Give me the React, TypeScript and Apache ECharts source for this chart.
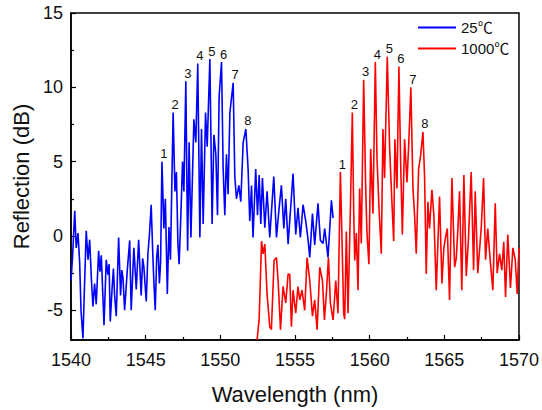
import React, { useEffect, useRef } from "react";
import * as echarts from "echarts";

// Reflection spectra: [wavelength (nm), reflection (dB)]
const blue25: [number, number][] = [
  [1540.00,-3.0],[1540.10,-1.5],[1540.25,1.7],[1540.35,-0.8],[1540.47,0.2],[1540.58,-1.8],[1540.67,-5.0],[1540.80,-6.9],[1540.90,-3.5],[1541.02,0.35],[1541.14,-1.6],[1541.25,-0.25],[1541.37,-3.0],[1541.47,-4.75],[1541.58,-3.2],[1541.69,-4.6],[1541.85,-1.0],[1541.94,-2.4],[1542.03,-1.3],[1542.21,-6.0],[1542.36,-1.6],[1542.47,-2.6],[1542.55,-1.9],[1542.63,-5.75],[1542.76,-3.4],[1542.84,-2.2],[1542.92,-4.0],[1543.03,-5.4],[1543.19,-0.1],[1543.32,-4.0],[1543.40,-2.3],[1543.48,-2.8],[1543.59,-5.0],[1543.77,-2.3],[1543.93,-0.3],[1544.03,-5.0],[1544.21,-0.8],[1544.37,-3.6],[1544.53,-0.25],[1544.70,-4.0],[1544.80,-1.5],[1544.88,-2.1],[1545.04,-4.4],[1545.15,-1.2],[1545.26,0.2],[1545.37,2.1],[1545.47,-1.0],[1545.55,-3.1],[1545.64,-5.0],[1545.74,-1.4],[1545.82,-0.6],[1545.92,-3.2],[1546.00,-1.8],[1546.09,5.0],[1546.22,0.5],[1546.32,2.5],[1546.45,-3.9],[1546.56,0.6],[1546.66,-1.6],[1546.84,8.3],[1546.96,3.0],[1547.06,4.3],[1547.16,-0.5],[1547.24,-1.9],[1547.36,1.5],[1547.47,5.0],[1547.56,3.0],[1547.69,10.4],[1547.81,-1.0],[1547.91,6.3],[1548.03,-0.1],[1548.23,7.85],[1548.36,6.3],[1548.49,11.6],[1548.63,-0.1],[1548.74,7.2],[1548.85,0.8],[1549.01,8.3],[1549.12,6.0],[1549.30,11.9],[1549.45,0.8],[1549.57,6.8],[1549.70,5.5],[1549.81,1.4],[1549.92,9.4],[1550.08,11.7],[1550.19,4.5],[1550.30,1.4],[1550.41,5.5],[1550.52,2.8],[1550.64,8.3],[1550.86,10.3],[1550.97,4.0],[1551.08,2.5],[1551.24,3.4],[1551.37,2.3],[1551.53,6.3],[1551.71,7.2],[1551.86,4.5],[1551.97,1.0],[1552.09,3.4],[1552.19,-0.1],[1552.37,4.5],[1552.49,1.4],[1552.60,4.1],[1552.71,0.8],[1552.82,3.9],[1552.98,0.55],[1553.13,3.0],[1553.31,-0.1],[1553.58,4.0],[1553.76,-0.1],[1553.93,1.8],[1554.09,3.4],[1554.25,0.5],[1554.38,2.5],[1554.54,-0.55],[1554.87,4.2],[1555.05,0.1],[1555.20,1.9],[1555.36,-0.1],[1555.54,2.1],[1555.72,1.0],[1555.87,-0.2],[1555.99,-1.45],[1556.17,1.5],[1556.32,-0.6],[1556.54,2.2],[1556.70,-0.3],[1556.88,-0.5],[1556.99,0.5],[1557.21,-1.45],[1557.44,2.4],[1557.55,1.2]
];

const red1000: [number, number][] = [
  [1552.46,-7.0],[1552.60,-5.6],[1552.76,-0.35],[1552.86,-1.2],[1552.98,-0.55],[1553.13,-3.9],[1553.31,-6.1],[1553.42,-6.3],[1553.60,-1.65],[1553.76,-1.45],[1553.87,-3.0],[1554.03,-6.3],[1554.20,-3.4],[1554.38,-4.5],[1554.54,-2.55],[1554.65,-2.6],[1554.76,-6.1],[1554.87,-3.65],[1555.05,-5.2],[1555.20,-3.4],[1555.32,-4.3],[1555.47,-3.65],[1555.65,-5.0],[1555.81,-1.45],[1555.99,-3.0],[1556.17,-5.4],[1556.32,-4.3],[1556.48,-6.3],[1556.66,-2.1],[1556.84,-3.0],[1556.97,-5.65],[1557.10,-3.9],[1557.24,-1.45],[1557.37,-4.5],[1557.55,-5.65],[1557.73,-3.0],[1557.88,-5.2],[1558.04,4.3],[1558.13,0.5],[1558.26,-5.2],[1558.33,-5.6],[1558.44,0.3],[1558.55,-5.2],[1558.71,1.8],[1558.84,8.3],[1558.93,1.8],[1559.00,-1.65],[1559.11,0.2],[1559.22,-3.65],[1559.33,3.2],[1559.44,-0.5],[1559.60,10.5],[1559.73,3.4],[1559.82,0.2],[1559.95,-1.9],[1560.07,5.85],[1560.22,1.5],[1560.38,11.7],[1560.49,5.3],[1560.62,2.0],[1560.78,-1.2],[1560.89,7.2],[1561.00,3.9],[1561.18,12.05],[1561.34,5.85],[1561.49,2.3],[1561.61,-0.35],[1561.69,6.5],[1561.83,3.2],[1561.96,11.4],[1562.07,5.2],[1562.19,0.1],[1562.34,6.5],[1562.50,3.6],[1562.63,6.5],[1562.76,10.0],[1562.90,3.2],[1563.01,1.4],[1563.12,-1.2],[1563.28,4.5],[1563.41,5.4],[1563.57,7.0],[1563.68,3.9],[1563.79,-2.55],[1563.90,2.3],[1564.01,0.5],[1564.17,3.1],[1564.30,1.4],[1564.46,-3.65],[1564.68,2.65],[1564.84,-3.2],[1564.97,-0.8],[1565.08,-0.1],[1565.20,0.5],[1565.35,-4.3],[1565.51,3.9],[1565.69,-2.1],[1565.80,-1.5],[1565.91,0.5],[1566.02,3.0],[1566.17,-3.65],[1566.31,4.1],[1566.47,-2.7],[1566.62,-0.1],[1566.80,4.3],[1566.96,-2.3],[1567.07,3.0],[1567.24,-2.5],[1567.47,0.5],[1567.63,3.9],[1567.76,-1.6],[1567.91,0.5],[1568.07,-1.6],[1568.25,-3.65],[1568.41,2.2],[1568.54,-2.5],[1568.70,-1.2],[1568.85,-2.3],[1568.98,-0.4],[1569.10,-4.1],[1569.25,0.1],[1569.43,-3.5],[1569.59,-0.8],[1569.75,-1.6],[1569.88,-3.9],[1570.00,-0.8]
];

const bluePeaks: [number, number][] = [
  [1546.09,5.0],[1546.84,8.3],[1547.69,10.4],[1548.49,11.6],[1549.30,11.9],[1550.08,11.7],[1550.86,10.3],[1551.71,7.2]
];
const redPeaks: [number, number][] = [
  [1558.04,4.3],[1558.84,8.3],[1559.60,10.5],[1560.38,11.7],[1561.18,12.05],[1561.96,11.4],[1562.76,10.0],[1563.57,7.0]
];
const peakNames = ["1","2","3","4","5","6","7","8"];
const seriesNames = ["25℃", "1000℃"];
const yMajorTicks = [-5, 0, 5, 10, 15];
const yMinorTicks = [-2.5, 2.5, 7.5, 12.5];

const FONT = 'Arial, "Liberation Sans", "Noto Sans CJK SC", sans-serif';

function peakMarks(peaks: [number, number][]) {
  return {
    symbol: "circle",
    symbolSize: 1,
    itemStyle: { color: "rgba(0,0,0,0)" },
    label: {
      show: true,
      position: "top",
      distance: 1,
      offset: [2, 0],
      formatter: "{b}",
      color: "#111",
      fontSize: 13,
      fontFamily: FONT,
    },
    data: peaks.map((p, i) => ({ coord: p, name: peakNames[i], value: i + 1 })),
  };
}

export default function App() {
  const ref = useRef<HTMLDivElement>(null);
  useEffect(() => {
    if (!ref.current) return;
    const chart = echarts.init(ref.current, undefined, { renderer: "svg" });
    const axisLine = { show: true, onZero: false, lineStyle: { color: "#000", width: 1.5 } };
    chart.setOption({
      animation: false,
      backgroundColor: "#fff",
      textStyle: { fontFamily: FONT },
      grid: {
        left: 71, right: 22, top: 13, bottom: 66,
        show: true, borderColor: "#000", borderWidth: 1.5, backgroundColor: "transparent",
      },
      legend: {
        orient: "vertical",
        left: 418,
        top: 20,
        padding: 0,
        icon: "rect",
        itemWidth: 38,
        itemHeight: 2,
        itemGap: 6,
        textStyle: { fontSize: 15, lineHeight: 14, color: "#111", fontFamily: FONT },
        data: seriesNames,
      },
      xAxis: {
        type: "value",
        min: 1540,
        max: 1570,
        interval: 5,
        axisLine,
        axisTick: { show: true, inside: true, length: 5, lineStyle: { color: "#000", width: 1.2 } },
        minorTick: { show: true, splitNumber: 2, length: 3, lineStyle: { color: "#000", width: 1.2 } },
        axisLabel: { fontSize: 18, color: "#111", margin: 11, fontFamily: FONT, formatter: (v: number) => String(v) },
        splitLine: { show: false },
        name: "Wavelength (nm)",
        nameLocation: "middle",
        nameGap: 43,
        nameTextStyle: { fontSize: 22, color: "#111", fontFamily: FONT },
      },
      yAxis: [
        {
          type: "value",
          min: -7,
          max: 15,
          axisLine,
          axisTick: { show: true, inside: true, length: 5, customValues: yMajorTicks, lineStyle: { color: "#000", width: 1.2 } },
          axisLabel: { fontSize: 18, color: "#111", margin: 8, customValues: yMajorTicks, fontFamily: FONT },
          splitLine: { show: false },
          name: "Reflection (dB)",
          nameLocation: "middle",
          nameGap: 33,
          nameTextStyle: { fontSize: 22, color: "#111", fontFamily: FONT },
        },
        {
          type: "value",
          min: -7,
          max: 15,
          position: "left",
          axisLine: { show: false, onZero: false },
          axisTick: { show: true, inside: true, length: 3, customValues: yMinorTicks, lineStyle: { color: "#000", width: 1.2 } },
          axisLabel: { show: false },
          splitLine: { show: false },
        },
      ],
      series: [
        {
          name: seriesNames[0],
          type: "line",
          data: blue25,
          showSymbol: false,
          symbol: "none",
          lineStyle: { color: "#0000ff", width: 1.6 },
          itemStyle: { color: "#0000ff" },
          markPoint: peakMarks(bluePeaks),
        },
        {
          name: seriesNames[1],
          type: "line",
          data: red1000,
          showSymbol: false,
          symbol: "none",
          lineStyle: { color: "#ff0000", width: 1.6 },
          itemStyle: { color: "#ff0000" },
          markPoint: peakMarks(redPeaks),
        },
      ],
    });
    return () => chart.dispose();
  }, []);
  return (
    <div
      ref={ref}
      style={{ position: "fixed", left: 0, top: 0, width: 542, height: 410, background: "#fff" }}
    />
  );
}
